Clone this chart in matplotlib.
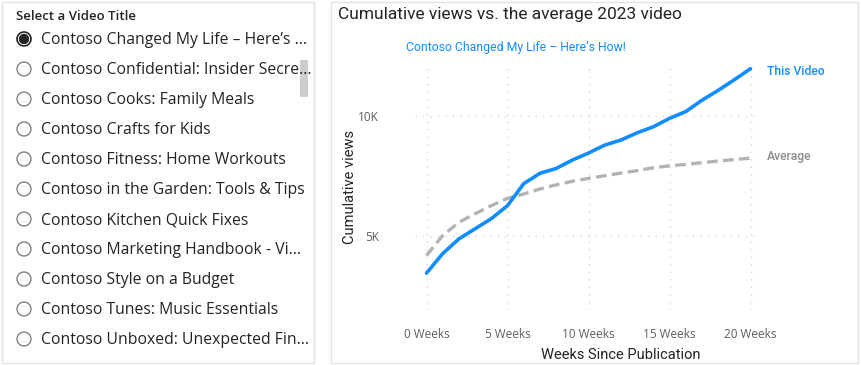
import matplotlib
matplotlib.use('Agg')
import matplotlib.pyplot as plt
from matplotlib.patches import Rectangle, Circle
from matplotlib.ticker import FuncFormatter

# slicer entries (truncated as shown in the report)
titles = ['Contoso Changed My Life \u2013 Here\u2019s ...',
          'Contoso Confidential: Insider Secre...',
          'Contoso Cooks: Family Meals',
          'Contoso Crafts for Kids',
          'Contoso Fitness: Home Workouts',
          'Contoso in the Garden: Tools & Tips',
          'Contoso Kitchen Quick Fixes',
          'Contoso Marketing Handbook - Vi...',
          'Contoso Style on a Budget',
          'Contoso Tunes: Music Essentials',
          'Contoso Unboxed: Unexpected Fin...']
selected = 0

# cumulative views per week since publication
weeks = list(range(21))
this_video = [3480, 4290, 4900, 5320, 5740, 6280, 7190, 7620, 7820, 8170, 8460,
              8790, 9000, 9300, 9550, 9900, 10180, 10650, 11060, 11500, 11960]
average = [4210, 5040, 5590, 5940, 6280, 6580, 6760, 6970, 7140, 7290, 7410,
           7520, 7630, 7730, 7850, 7930, 7990, 8060, 8130, 8190, 8250]
xticks = [0, 5, 10, 15, 20]
yticks = [5000, 10000]

BLUE = '#118DFF'
GRAY = '#B3B3B3'
W, H = 861, 365

fig = plt.figure(figsize=(W / 100, H / 100), dpi=100)

# background layer in pixel coordinates for the two visual frames + slicer
bg = fig.add_axes([0, 0, 1, 1])
bg.set_xlim(0, W); bg.set_ylim(H, 0); bg.axis('off')
bg.add_patch(Rectangle((2, 2), 312, 361, fill=False, ec='#E3E3E3', lw=1))
bg.add_patch(Rectangle((331, 2), 527, 361, fill=False, ec='#E3E3E3', lw=1))

bg.text(16, 17, 'Select a Video Title', fontsize=9.5, family='Open Sans',
        weight='semibold', color='#252423', va='center', ha='left')
for i, t in enumerate(titles):
    y = 39 + 30 * i
    if i == selected:
        bg.add_patch(Circle((24, y), 7, fill=False, ec='#252423', lw=1.2))
        bg.add_patch(Circle((24, y), 4.5, color='#252423'))
    else:
        bg.add_patch(Circle((24, y), 7, fill=False, ec='#757575', lw=0.9))
    bg.text(41, y + 1.5, t, fontsize=11.3, family='Open Sans', color='#252423',
            va='center', ha='left')
bg.add_patch(Rectangle((300, 60), 8, 37, color='#CDCDCD', lw=0))

bg.text(338, 15, 'Cumulative views vs. the average 2023 video', fontsize=12.5,
        family='Roboto', color='#252423', va='center', ha='left')
bg.text(516, 48, 'Contoso Changed My Life \u2013 Here\u2019s How!', fontsize=8.8,
        family='Roboto', color=BLUE, va='center', ha='center')

# line chart
ax = fig.add_axes([415 / W, 1 - 310 / H, 342 / W, 243 / H])
ax.set_xlim(-0.71, 20.4)
ax.set_ylim(1950, 12030)
ax.plot(weeks, average, color=GRAY, lw=2.4, dashes=(3.2, 1.6), clip_on=False)
ax.plot(weeks, this_video, color=BLUE, lw=2.6, solid_capstyle='round', clip_on=False)
ax.annotate('This Video', (weeks[-1], this_video[-1]), xytext=(12, -2),
            textcoords='offset points', color=BLUE, fontsize=8.7, family='Roboto',
            weight='medium', va='center')
ax.annotate('Average', (weeks[-1], average[-1]), xytext=(12, 1.2),
            textcoords='offset points', color='#8C8C8C', fontsize=8.7,
            family='Roboto', weight='medium', va='center')

ax.set_xticks(xticks)
ax.set_xticklabels([f'{w} Weeks' for w in xticks])
ax.set_yticks(yticks)
ax.yaxis.set_major_formatter(FuncFormatter(lambda v, p: f'{int(v / 1000)}K'))
ax.tick_params(length=0, labelsize=8.5, labelcolor='#605E5C')
ax.tick_params(axis='x', pad=13)
ax.tick_params(axis='y', pad=26)
for lab in ax.get_xticklabels() + ax.get_yticklabels():
    lab.set_family('Open Sans')
ax.grid(True, color='#CFCFCF', ls=(0, (1, 5)), lw=0.9)
for s in ax.spines.values():
    s.set_visible(False)
ax.set_facecolor('none')

ax.set_xlabel('Weeks Since Publication', fontsize=10.5, family='Roboto', color='#252423')
ax.xaxis.set_label_coords(0.602, -0.155)
ax.set_ylabel('Cumulative views', fontsize=10.5, family='Roboto', color='#252423')
ax.yaxis.set_label_coords(-0.17, 0.506)

fig.savefig('out.png', dpi=100)
